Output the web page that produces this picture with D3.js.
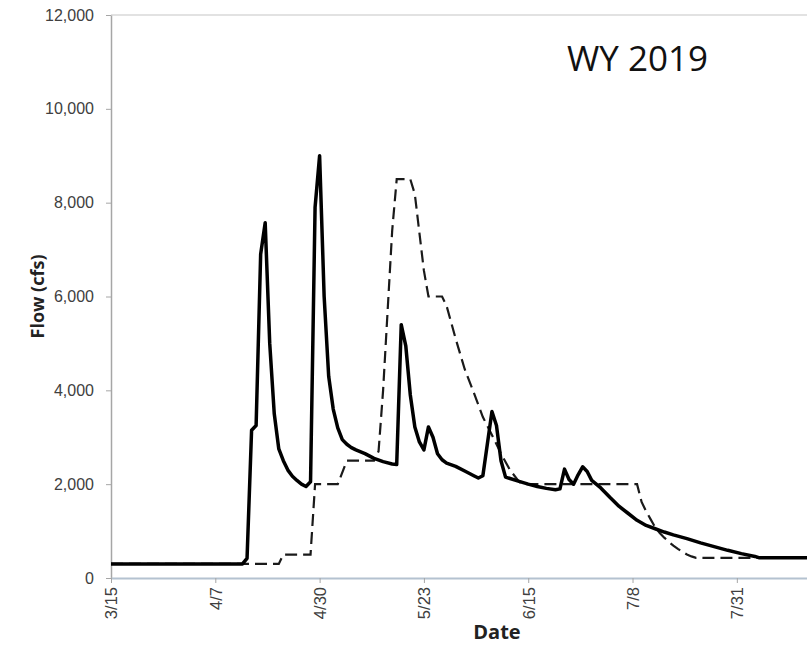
<!DOCTYPE html>
<html>
<head>
<meta charset="utf-8">
<script src="https://d3js.org/d3.v7.min.js"></script>
<style>
  body { margin: 0; background: #fff; }
  svg { display: block; font-family: "Open Sans", sans-serif; }
</style>
</head>
<body>
<div id="chart"></div>
<script>
// measured flow (solid) - date (2019) and cfs
const flowDates = ["3/15","4/13","4/14","4/15","4/16","4/17","4/18","4/19","4/20","4/21","4/22","4/23","4/24","4/25","4/26","4/27","4/28","4/29","4/30",
  "5/1","5/2","5/3","5/4","5/5","5/6","5/7","5/8","5/10","5/12","5/14","5/16","5/17","5/18","5/19","5/20","5/21","5/22","5/23","5/24","5/25","5/26","5/27","5/28","5/30",
  "6/1","6/3","6/4","6/5","6/7","6/8","6/9","6/10","6/11","6/13","6/15","6/17","6/19","6/21","6/22","6/23","6/24","6/25","6/26","6/27","6/28","6/29",
  "7/1","7/3","7/5","7/7","7/9","7/11","7/13","7/15","7/17","7/20","7/23","7/26","7/29","8/1","8/4","8/5","9/15"];
const flowCfs = [300,300,420,3150,3250,6900,7570,5000,3500,2750,2500,2300,2170,2080,2000,1950,2050,7900,9000,
  6000,4300,3600,3200,2950,2850,2780,2730,2650,2550,2480,2430,2420,5400,4950,3900,3220,2900,2730,3220,3000,2650,2520,2450,2380,
  2280,2180,2130,2180,3550,3250,2500,2150,2120,2060,2000,1950,1910,1880,1900,2320,2100,2000,2200,2370,2270,2080,
  1920,1720,1530,1380,1230,1120,1050,980,920,840,750,670,590,520,460,430,430];

// planned / target flow (dashed)
const targetDates = ["3/15","4/21","4/22","4/28","4/29","5/4","5/6","5/12","5/13","5/14","5/15","5/16","5/17","5/20","5/21","5/22","5/23","5/24","5/27","5/28","5/30",
  "6/1","6/3","6/5","6/7","6/9","6/11","6/13","6/14","7/9","7/10","7/11","7/12","7/13","7/14","7/15","7/16","7/17","7/18","7/19","7/20","7/21","7/22","9/15"];
const targetCfs = [300,300,500,500,2000,2000,2500,2500,2700,4000,5700,7400,8500,8500,8180,7360,6550,6000,6000,5800,5100,
  4450,3950,3430,3050,2650,2300,2050,2000,2000,1620,1420,1250,1080,960,860,770,690,620,560,500,460,430,430];

const xTickLabels = ["3/15","4/7","4/30","5/23","6/15","7/8","7/31"];
const yTicks = [0,2000,4000,6000,8000,10000,12000];

const width = 807, height = 647;
const plotLeft = 111, plotTop = 15, plotBottom = 578;
const parse = s => d3.utcParse("%m/%d/%Y")(s + "/2019");

const x = d3.scaleUtc()
  .domain([parse("3/15"), parse("9/15")])
  .range([plotLeft, plotLeft + 184 * 4.535]);
const y = d3.scaleLinear().domain([0, 12000]).range([plotBottom, plotTop]);

const svg = d3.select("#chart").append("svg")
  .attr("width", width).attr("height", height);

// top border line
svg.append("line")
  .attr("x1", plotLeft).attr("x2", width)
  .attr("y1", y(12000)).attr("y2", y(12000))
  .attr("stroke", "#d9d9d9").attr("stroke-width", 1.5);

// y axis
const yAxis = svg.append("g")
  .attr("transform", `translate(${plotLeft},0)`)
  .call(d3.axisLeft(y).tickValues(yTicks).tickSize(5).tickSizeOuter(0).tickPadding(12).tickFormat(d3.format(",")));
yAxis.attr("font-size", null);
yAxis.select(".domain").attr("stroke", "#a6a6a6").attr("stroke-width", 1.5);
yAxis.selectAll(".tick line").attr("stroke", "#a6a6a6");
yAxis.selectAll("text").attr("fill", "#404040").style("font-size", "16px");

// x axis
const xAxis = svg.append("g")
  .attr("transform", `translate(0,${plotBottom})`)
  .call(d3.axisBottom(x).tickValues(xTickLabels.map(parse)).tickSize(5).tickSizeOuter(0).tickFormat(d3.utcFormat("%-m/%-d")));
xAxis.attr("font-size", null);
xAxis.select(".domain").attr("stroke", "#b4c2d0").attr("stroke-width", 2);
xAxis.selectAll(".tick line").attr("stroke", "#a6a6a6");
xAxis.selectAll("text")
  .attr("fill", "#404040").style("font-size", "16.5px")
  .attr("transform", "rotate(-90)")
  .attr("text-anchor", "end")
  .attr("x", -9).attr("y", 0).attr("dy", "0.35em");

const line = d3.line().x(d => x(d[0])).y(d => y(d[1]));

// dashed target
svg.append("path")
  .datum(targetDates.map((d, i) => [parse(d), targetCfs[i]]))
  .attr("fill", "none")
  .attr("stroke", "#1a1a1a")
  .attr("stroke-width", 2.2)
  .attr("stroke-dasharray", "12,6")
  .attr("d", line);

// solid flow
svg.append("path")
  .datum(flowDates.map((d, i) => [parse(d), flowCfs[i]]))
  .attr("fill", "none")
  .attr("stroke", "#000")
  .attr("stroke-width", 3.5)
  .attr("stroke-linejoin", "round")
  .attr("d", line);

// axis titles
svg.append("text")
  .attr("transform", `translate(44,${(plotTop + plotBottom) / 2}) rotate(-90)`)
  .attr("text-anchor", "middle")
  .attr("font-size", 18).attr("font-weight", "bold")
  .attr("fill", "#222")
  .text("Flow (cfs)");

svg.append("text")
  .attr("x", 497).attr("y", 639)
  .attr("text-anchor", "middle")
  .attr("font-size", 20).attr("font-weight", "bold")
  .attr("fill", "#222")
  .text("Date");

svg.append("text")
  .attr("x", 567).attr("y", 71)
  .attr("font-size", 35)
  .attr("fill", "#111")
  .text("WY 2019");
</script>
</body>
</html>
